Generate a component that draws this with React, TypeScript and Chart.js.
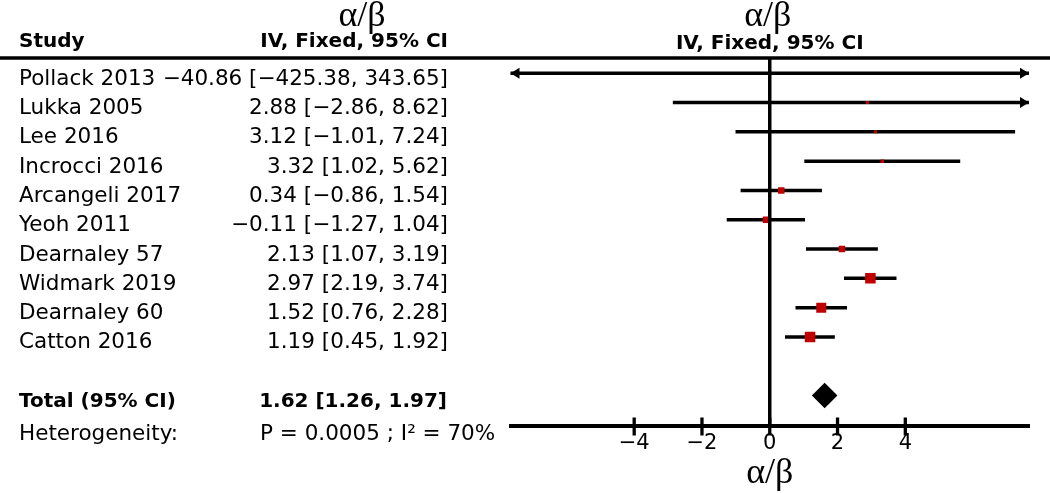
import React, { useEffect, useRef } from 'react';
import { Chart, registerables } from 'chart.js';

Chart.register(...registerables);

// ---- data ----
const studies = [
  'Pollack 2013', 'Lukka 2005', 'Lee 2016', 'Incrocci 2016', 'Arcangeli 2017',
  'Yeoh 2011', 'Dearnaley 57', 'Widmark 2019', 'Dearnaley 60', 'Catton 2016',
];
const estimates = [-40.86, 2.88, 3.12, 3.32, 0.34, -0.11, 2.13, 2.97, 1.52, 1.19];
const lowerCI = [-425.38, -2.86, -1.01, 1.02, -0.86, -1.27, 1.07, 2.19, 0.76, 0.45];
const upperCI = [343.65, 8.62, 7.24, 5.62, 1.54, 1.04, 3.19, 3.74, 2.28, 1.92];

const totalLabel = 'Total (95% CI)';
const totalEstimate = 1.62;
const totalLower = 1.26;
const totalUpper = 1.97;

const heterogeneityLabel = 'Heterogeneity:';
const heterogeneityText = 'P = 0.0005 ; I\u00B2 = 70%';

const headerStudy = 'Study';
const headerCI = 'IV, Fixed, 95% CI';
const headerMeasure = '\u03B1/\u03B2';

const xTickValues = [-4, -2, 0, 2, 4];
const xMin = -7.65;
const xMax = 7.65;

// ---- style ----
const markerSide = [0, 3, 3, 3.5, 6.5, 6.5, 6.5, 10.5, 10, 10.5];
const RED = '#c00000';
const SANS = '"DejaVu Sans"';
const SERIF = '"Liberation Serif"';

const fmt = (v: number) => v.toFixed(2).replace('-', '\u2212');
const fmtTick = (v: number) => String(v).replace('-', '\u2212');
const ciText = (e: number, l: number, u: number) => `${fmt(e)} [${fmt(l)}, ${fmt(u)}]`;

const textPlugin = {
  id: 'forestText',
  afterDraw(chart: any) {
    const { ctx, chartArea, scales } = chart;
    const x = scales.x;
    const y = scales.y;
    const zeroX = x.getPixelForValue(0);
    ctx.save();
    ctx.fillStyle = '#000';
    ctx.strokeStyle = '#000';

    // header rule
    ctx.lineWidth = 3.5;
    ctx.beginPath();
    ctx.moveTo(0, chartArea.top);
    ctx.lineTo(chart.width, chartArea.top);
    ctx.stroke();

    // headers
    ctx.textBaseline = 'alphabetic';
    ctx.font = `bold 20px ${SANS}`;
    ctx.textAlign = 'left';
    ctx.fillText(headerStudy, 19, 47);
    ctx.textAlign = 'right';
    ctx.fillText(headerCI, 448, 47);
    ctx.textAlign = 'center';
    ctx.fillText(headerCI, zeroX, 49);
    ctx.font = `36px ${SERIF}`;
    ctx.fillText(headerMeasure, 362, 26);
    ctx.fillText(headerMeasure, zeroX - 2, 26);

    // study rows
    ctx.font = `21.5px ${SANS}`;
    studies.forEach((s, i) => {
      const py = y.getPixelForValue(i) + 11.5;
      ctx.textAlign = 'left';
      ctx.fillText(s, 19, py);
      ctx.textAlign = 'right';
      ctx.fillText(ciText(estimates[i], lowerCI[i], upperCI[i]), 448, py);
    });

    // total row
    ctx.font = `bold 20px ${SANS}`;
    const ty = y.getPixelForValue(11) + 11;
    ctx.textAlign = 'left';
    ctx.fillText(totalLabel, 19, ty);
    ctx.textAlign = 'right';
    ctx.fillText(ciText(totalEstimate, totalLower, totalUpper), 447, ty);

    // heterogeneity row
    ctx.font = `21.5px ${SANS}`;
    const hy = y.getPixelForValue(12) + 15;
    ctx.textAlign = 'left';
    ctx.fillText(heterogeneityLabel, 19, hy);
    ctx.fillText(heterogeneityText, 260, hy);

    // arrows for CIs beyond the axis range
    studies.forEach((_, i) => {
      const py = y.getPixelForValue(i);
      if (lowerCI[i] < xMin) {
        const L = chartArea.left;
        ctx.beginPath();
        ctx.moveTo(L, py);
        ctx.lineTo(L + 9, py - 5.5);
        ctx.lineTo(L + 9, py + 5.5);
        ctx.closePath();
        ctx.fill();
      }
      if (upperCI[i] > xMax) {
        const R = chartArea.right;
        ctx.beginPath();
        ctx.moveTo(R, py);
        ctx.lineTo(R - 9, py - 5.5);
        ctx.lineTo(R - 9, py + 5.5);
        ctx.closePath();
        ctx.fill();
      }
    });

    // tick marks crossing the axis line
    ctx.lineWidth = 3.3;
    const axisY = chartArea.bottom;
    x.ticks.forEach((t: any) => {
      const px = x.getPixelForValue(t.value);
      ctx.beginPath();
      ctx.moveTo(px, axisY - 8.5);
      ctx.lineTo(px, axisY + 9.5);
      ctx.stroke();
    });
    ctx.restore();
  },
};

export default function App() {
  const ref = useRef<HTMLCanvasElement | null>(null);

  useEffect(() => {
    if (!ref.current) return;
    const ciDatasets = studies.map((_, i) => ({
      type: 'line' as const,
      data: [
        { x: lowerCI[i], y: i },
        { x: upperCI[i], y: i },
      ],
      borderColor: '#000',
      borderWidth: 3.5,
      pointRadius: 0,
      clip: 0,
      order: 2,
    }));

    const chart = new Chart(ref.current, {
      type: 'scatter',
      data: {
        datasets: [
          {
            type: 'line',
            data: [
              { x: 0, y: -0.52 },
              { x: 0, y: 12.04 },
            ],
            borderColor: '#000',
            borderWidth: 3.5,
            pointRadius: 0,
            clip: 0,
            order: 0,
          } as any,
          {
            type: 'scatter',
            data: estimates.map((e, i) => ({ x: e, y: i })),
            pointStyle: 'rect',
            pointRadius: markerSide.map((s) => s / Math.SQRT2),
            backgroundColor: RED,
            borderWidth: 0,
            order: 1,
          } as any,
          {
            type: 'scatter',
            data: [{ x: totalEstimate, y: 11 }],
            pointStyle: 'rectRot',
            pointRadius: 12.8,
            backgroundColor: '#000',
            borderWidth: 0,
            order: 1,
          } as any,
          ...(ciDatasets as any[]),
        ],
      },
      options: {
        responsive: false,
        animation: false,
        devicePixelRatio: 1,
        events: [],
        layout: { padding: { left: 510.5, right: 21, top: 58, bottom: 0 } },
        plugins: { legend: { display: false }, tooltip: { enabled: false } },
        scales: {
          x: {
            type: 'linear',
            min: xMin,
            max: xMax,
            afterBuildTicks: (s: any) => {
              s.ticks = xTickValues.map((v) => ({ value: v }));
            },
            afterFit: (s: any) => {
              s.height = 67;
            },
            ticks: {
              color: '#000',
              font: { family: 'DejaVu Sans', size: 21 },
              padding: 5,
              maxRotation: 0,
              callback: (v: any) => fmtTick(Number(v)),
            },
            grid: { display: false, drawTicks: false },
            border: { display: true, color: '#000', width: 4 },
            title: {
              display: true,
              text: headerMeasure,
              color: '#000',
              font: { family: 'Liberation Serif', size: 36 },
              padding: { top: 0, bottom: -2 },
            },
          },
          y: {
            type: 'linear',
            display: false,
            min: -0.52,
            max: 12.04,
            reverse: true,
          },
        },
      } as any,
      plugins: [textPlugin],
    });
    return () => chart.destroy();
  }, []);

  return (
    <div style={{ position: 'absolute', left: 0, top: 0, width: 1050, height: 493, background: '#fff' }}>
      <canvas ref={ref} width={1050} height={493} style={{ display: 'block' }} />
    </div>
  );
}
